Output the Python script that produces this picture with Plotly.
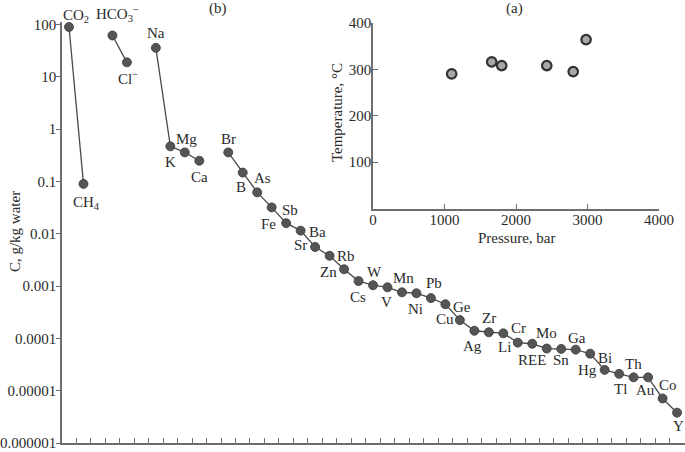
import math
import plotly.graph_objects as go

# ---------------- data ----------------
# main panel (b): element groups, category index and concentration (g/kg water)
g1_names = ["CO<sub>2</sub>", "CH<sub>4</sub>"]
g1_pos = [0, 1]
g1_vals = [90, 0.09]

g2_names = ["HCO<sub>3</sub><sup>−</sup>", "Cl<sup>−</sup>"]
g2_pos = [3, 4]
g2_vals = [62, 19]

g3_names = ["Na", "K", "Mg", "Ca"]
g3_pos = [6, 7, 8, 9]
g3_vals = [36, 0.47, 0.36, 0.25]

g4_names = ["Br", "B", "As", "Fe", "Sb", "Ba", "Sr", "Rb", "Zn", "Cs", "W", "V",
            "Mn", "Ni", "Pb", "Ge", "Cu", "Ag", "Zr", "Li", "Cr", "REE", "Mo", "Sn",
            "Ga", "Hg", "Bi", "Tl", "Th", "Au", "Co", "Y"]
g4_pos = list(range(11, 43))
g4_vals = [0.36, 0.148, 0.062, 0.032, 0.016, 0.0115, 0.0056, 0.0038, 0.0021,
           0.00125, 0.00104, 0.00095, 0.00076, 0.00073, 0.00059, 0.00045,
           0.000224, 0.00014, 0.000131, 0.000125, 8.3e-5, 7.9e-5, 6.4e-5, 6.3e-5,
           6.1e-5, 5.1e-5, 2.5e-5, 2.1e-5, 1.8e-5, 1.8e-5, 7.1e-6, 3.8e-6]

y_tickvals = [100, 10, 1, 0.1, 0.01, 0.001, 0.0001, 0.00001, 0.000001]
y_ticktext = ["100", "10", "1", "0.1", "0.01", "0.001", "0.0001", "0.00001", "0.000001"]

# inset (a): pressure (bar) vs temperature (°C)
pressure = [1100, 1660, 1800, 2430, 2800, 2980]
temperature = [290, 316, 308, 308, 295, 364]
inset_xticks = [0, 1000, 2000, 3000, 4000]
inset_yticks = [100, 200, 300, 400]

# label offsets (pixels, dx right, dy down) for each element label
label_offsets = {
    "CO<sub>2</sub>": (7, -11), "CH<sub>4</sub>": (3, 19),
    "HCO<sub>3</sub><sup>−</sup>": (5, -21), "Cl<sup>−</sup>": (1, 16),
    "Na": (0, -15), "K": (0, 16), "Mg": (2, -13), "Ca": (0, 16),
    "Br": (0, -13), "B": (-2, 14), "As": (5, -14), "Fe": (-3, 17),
    "Sb": (4, -13), "Ba": (17, 1), "Sr": (-15, -2), "Rb": (16, 0),
    "Zn": (-16, 3), "Cs": (-1, 16), "W": (1, -13), "V": (-1, 15),
    "Mn": (2, -14), "Ni": (-1, 16), "Pb": (3, -15), "Ge": (17, 3),
    "Cu": (-15, -1), "Ag": (-2, 15), "Zr": (0, -14), "Li": (1, 14),
    "Cr": (1, -15), "REE": (0, 16), "Mo": (0, -16), "Sn": (0, 11),
    "Ga": (1, -12), "Hg": (-3, 16), "Bi": (0, -12), "Tl": (1, 15),
    "Th": (0, -13), "Au": (-3, 13), "Co": (5, -13), "Y": (1, 13),
}

# ---------------- figure ----------------
FONT = "Liberation Serif"
TXT = "#2a2a2a"
AX = "#6e6e6e"

fig = go.Figure()

for pos, vals in [(g1_pos, g1_vals), (g2_pos, g2_vals), (g3_pos, g3_vals), (g4_pos, g4_vals)]:
    fig.add_trace(go.Scatter(
        x=pos, y=vals, mode="lines+markers",
        line=dict(color="#4a4a4a", width=1.3),
        marker=dict(size=9, color="#555555", line=dict(color="#3a3a3a", width=0.8)),
        xaxis="x", yaxis="y", showlegend=False, hoverinfo="skip"))

fig.add_trace(go.Scatter(
    x=pressure, y=temperature, mode="markers",
    marker=dict(size=9.5, color="#a8a8a8", line=dict(color="#333333", width=2.2)),
    xaxis="x2", yaxis="y2", showlegend=False, hoverinfo="skip"))

annotations = []
for names, pos, vals in [(g1_names, g1_pos, g1_vals), (g2_names, g2_pos, g2_vals),
                         (g3_names, g3_pos, g3_vals), (g4_names, g4_pos, g4_vals)]:
    for n, p, v in zip(names, pos, vals):
        dx, dy = label_offsets[n]
        annotations.append(dict(x=p, y=math.log10(v), xref="x", yref="y",
                                text=n, showarrow=False, xshift=dx, yshift=-dy,
                                xanchor="center", yanchor="middle",
                                font=dict(family=FONT, size=15, color=TXT)))

def paper_text(x, y, text, angle=0):
    return dict(x=x, y=y, xref="paper", yref="paper", text=text, showarrow=False,
                xanchor="center", yanchor="middle", textangle=angle,
                font=dict(family=FONT, size=15, color=TXT))

annotations += [
    paper_text(0.2504, 1.033, "(b)"),
    paper_text(0.727, 1.033, "(a)"),
    paper_text(0.7303, 0.487, "Pressure, bar"),
    paper_text(0.4414, 0.786, "Temperature, °C", -90),
    paper_text(-0.0754, 0.501, "C, g/kg water", -90),
]

fig.update_layout(
    width=685, height=452,
    margin=dict(l=62, r=0, t=22, b=9, autoexpand=False),
    paper_bgcolor="white", plot_bgcolor="rgba(0,0,0,0)",
    font=dict(family=FONT, size=15, color=TXT),
    annotations=annotations,
    xaxis=dict(domain=[0, 1], range=[-0.484, 42.55], showgrid=False, zeroline=False,
               showline=True, linecolor=AX, linewidth=1.5, automargin=False,
               tickmode="array", tickvals=[i + 0.5 for i in range(43)], ticktext=[""] * 43,
               ticks="inside", ticklen=5, tickcolor=AX, tickwidth=1),
    yaxis=dict(domain=[0, 1], type="log", range=[-6, 2.05], showgrid=False, zeroline=False,
               showline=True, linecolor=AX, linewidth=1.5, automargin=False,
               tickmode="array", tickvals=y_tickvals, ticktext=y_ticktext,
               ticks="outside", ticklen=4, tickcolor=AX, tickwidth=1,
               ticklabelstandoff=-3,
               tickfont=dict(family=FONT, size=15, color=TXT)),
    xaxis2=dict(domain=[0.4992, 0.9583], anchor="y2", range=[0, 4000], showgrid=False,
                zeroline=False, showline=True, linecolor=AX, linewidth=1.5, automargin=False,
                tickmode="array", tickvals=inset_xticks,
                ticks="inside", ticklen=5, tickcolor=AX, tickwidth=1,
                ticklabelstandoff=-3,
                tickfont=dict(family=FONT, size=15, color=TXT)),
    yaxis2=dict(domain=[0.557, 0.998], anchor="x2", range=[0, 400], showgrid=False,
                zeroline=False, showline=True, linecolor=AX, linewidth=1.5, automargin=False,
                tickmode="array", tickvals=inset_yticks,
                ticks="inside", ticklen=5, tickcolor=AX, tickwidth=1,
                ticklabelstandoff=-3,
                tickfont=dict(family=FONT, size=15, color=TXT)),
)

fig.write_html("out.html", config={"displayModeBar": False},
               post_script="document.body.style.margin='0';document.body.style.overflow='hidden';")
